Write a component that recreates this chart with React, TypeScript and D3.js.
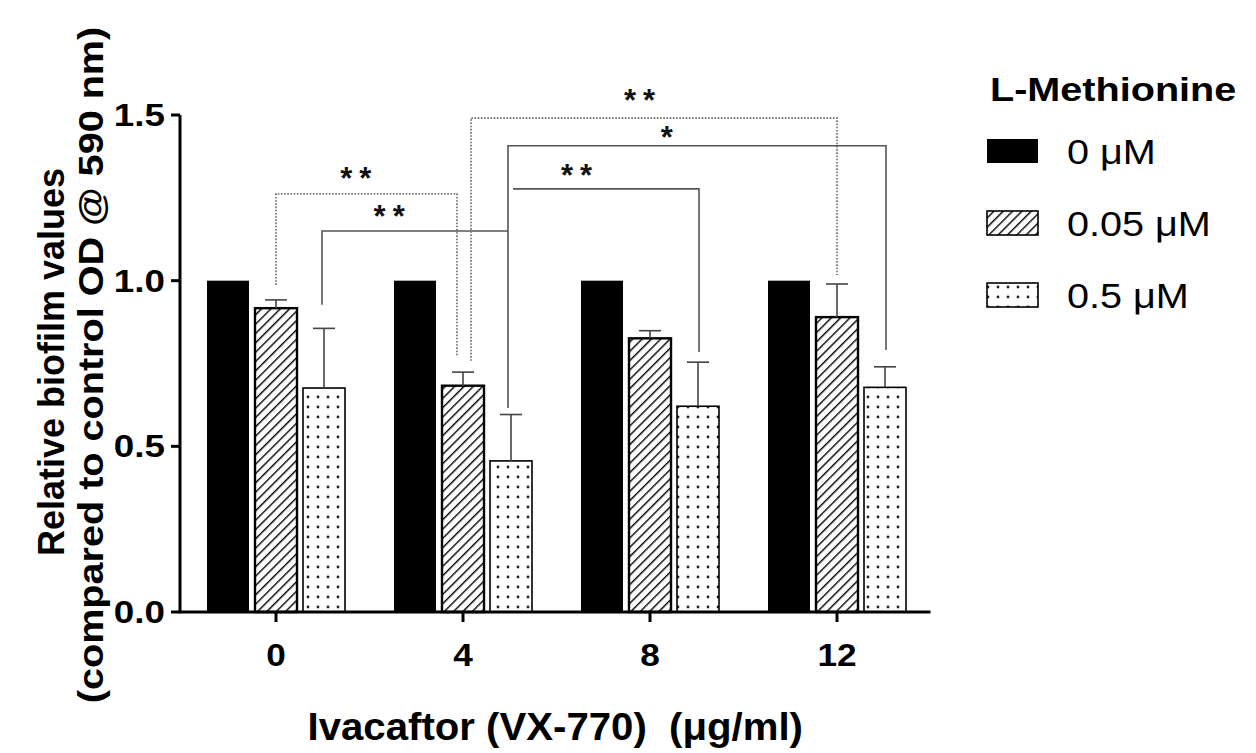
import * as d3 from 'd3'

// Ivacaftor concentration groups (µg/ml)
const groups = ['0', '4', '8', '12']
// L-Methionine concentration series
const series = ['0 μM', '0.05 μM', '0.5 μM']

// relative biofilm values per series, one value per group
const methionine0 = [1.0, 1.0, 1.0, 1.0]
const methionine005 = [0.917, 0.683, 0.826, 0.89]
const methionine05 = [0.676, 0.456, 0.621, 0.678]

// upper error (SD) per series
const err0 = [0, 0, 0, 0]
const err005 = [0.025, 0.041, 0.023, 0.1]
const err05 = [0.18, 0.14, 0.133, 0.062]

const yTicks = [0, 0.5, 1.0, 1.5]

// significance brackets: [group, series] at each end, bracket level and leg ends in data units
const brackets = [
  { from: ['0', '0.05 μM'], to: ['4', '0.05 μM'], level: 1.262, leftEnd: 0.987, rightEnd: 0.77, label: '**', dashed: true, dxL: 0, dxR: -6, t: 0.46, dy: 22 },
  { from: ['0', '0.5 μM'], to: ['4', '0.5 μM'], level: 1.15, leftEnd: 0.927, rightEnd: null, label: '**', dashed: false, dxL: -2, dxR: -3, t: 0.38, dy: 21 },
  { from: ['4', '0.05 μM'], to: ['12', '0.05 μM'], level: 1.491, leftEnd: 0.758, rightEnd: 1.017, label: '**', dashed: true, dxL: 8, dxR: 0, t: 0.47, dy: 24 },
  { from: ['4', '0.5 μM'], to: ['12', '0.5 μM'], level: 1.407, leftEnd: 0.616, rightEnd: 0.791, label: '*', dashed: false, dxL: -3, dxR: 1, t: 0.42, dy: 15 },
  { from: ['4', '0.5 μM'], to: ['8', '0.5 μM'], level: 1.277, leftEnd: null, rightEnd: 0.785, label: '**', dashed: false, dxL: 2, dxR: 1, t: 0.36, dy: 20 },
]

const FONT = 'Liberation Sans, Arial, Helvetica, sans-serif'

export default function App() {
  const width = 1256
  const height = 753

  const values = [methionine0, methionine005, methionine05]
  const errors = [err0, err005, err05]

  const x = d3.scaleBand().domain(groups).range([182.5, 930.5]).paddingInner(0).paddingOuter(0)
  const xi = d3.scaleBand().domain(series).range([-72, 72]).paddingInner(0.125).paddingOuter(0.0625)
  const y = d3.scaleLinear().domain([0, 1.5]).range([612, 115])

  const gc = (g: string) => (x(g) as number) + x.bandwidth() / 2
  const bc = (g: string, s: string) => gc(g) + (xi(s) as number) + xi.bandwidth() / 2

  const fills = ['#000', 'url(#hatch)', 'url(#dots)']

  const axisLeft = x.range()[0] - 2.5
  const axisRight = x.range()[1]

  const legendY = d3.scalePoint().domain(series).range([151, 295])

  return (
    <div style={{ position: 'absolute', left: 0, top: 0 }}>
      <svg width={width} height={height} style={{ display: 'block', background: '#fff' }} fontFamily={FONT}>
        <defs>
          <pattern id="hatch" width={6.6} height={6.6} patternUnits="userSpaceOnUse" patternTransform="rotate(45)">
            <rect width={6.6} height={6.6} fill="#fff" />
            <line x1={0} y1={0} x2={0} y2={6.6} stroke="#000" strokeWidth={2.8} />
          </pattern>
          <pattern id="dots" width={10} height={10} patternUnits="userSpaceOnUse" x={3} y={2}>
            <rect width={10} height={10} fill="#fff" />
            <circle cx={5} cy={5} r={1.4} fill="#222" />
          </pattern>
        </defs>

        {/* bars */}
        {series.map((s, si) =>
          groups.map((g, gi) => {
            const v = values[si][gi]
            const x0 = (x(g) as number) + x.bandwidth() / 2 + (xi(s) as number)
            const isBlack = si === 0
            return (
              <rect
                key={s + g}
                x={x0}
                y={y(v)}
                width={xi.bandwidth()}
                height={y(0) - y(v)}
                fill={fills[si]}
                stroke={isBlack ? 'none' : '#000'}
                strokeWidth={si === 1 ? 2.4 : 1.6}
              />
            )
          })
        )}

        {/* error bars (upper only) */}
        {series.map((s, si) =>
          groups.map((g, gi) => {
            const e = errors[si][gi]
            if (!e) return null
            const cx = bc(g, s)
            const top = y(values[si][gi] + e)
            return (
              <g key={'e' + s + g} stroke="#444" strokeWidth={1.6}>
                <line x1={cx} x2={cx} y1={y(values[si][gi])} y2={top} />
                <line x1={cx - 11} x2={cx + 11} y1={top} y2={top} />
              </g>
            )
          })
        )}

        {/* significance brackets */}
        {brackets.map((b, i) => {
          const xl = bc(b.from[0], b.from[1]) + b.dxL
          const xr = bc(b.to[0], b.to[1]) + b.dxR
          const yl = y(b.level)
          const pts: [number, number][] = []
          if (b.leftEnd !== null) pts.push([xl, y(b.leftEnd)])
          pts.push([xl, yl], [xr, yl])
          if (b.rightEnd !== null) pts.push([xr, y(b.rightEnd)])
          const path = d3.line()(pts) as string
          const lx = xl + (xr - xl) * b.t
          return (
            <g key={'b' + i}>
              <path
                d={path}
                fill="none"
                stroke={b.dashed ? '#777' : '#555'}
                strokeWidth={b.dashed ? 1.8 : 1.6}
                strokeDasharray={b.dashed ? '1.6 1.6' : undefined}
              />
              <text
                x={lx}
                y={yl - b.dy + 17}
                textAnchor="middle"
                fontSize={31}
                fontWeight="bold"
                letterSpacing={b.label.length > 1 ? 7 : 0}
                fill="#111"
              >
                {b.label}
              </text>
            </g>
          )
        })}

        {/* y axis */}
        <line x1={axisLeft} x2={axisLeft} y1={y(1.5)} y2={y(0)} stroke="#000" strokeWidth={3} />
        {yTicks.map((t) => (
          <g key={'yt' + t}>
            <line x1={axisLeft - 9} x2={axisLeft} y1={y(t)} y2={y(t)} stroke="#000" strokeWidth={3} />
            <text
              transform={`translate(${axisLeft - 15},${y(t) + 11}) scale(1.15,1)`}
              textAnchor="end"
              fontSize={32}
              fontWeight="bold"
              fill="#000"
            >
              {t.toFixed(1)}
            </text>
          </g>
        ))}

        {/* x axis */}
        <line x1={axisLeft - 1.5} x2={axisRight} y1={y(0)} y2={y(0)} stroke="#000" strokeWidth={3} />
        {groups.map((g) => (
          <g key={'xt' + g}>
            <line x1={gc(g)} x2={gc(g)} y1={y(0)} y2={y(0) + 10} stroke="#000" strokeWidth={3} />
            <text
              transform={`translate(${gc(g)},${y(0) + 54}) scale(1.1,1)`}
              textAnchor="middle"
              fontSize={32}
              fontWeight="bold"
              fill="#000"
            >
              {g}
            </text>
          </g>
        ))}

        {/* axis titles */}
        <text
          transform={`translate(${(axisLeft + axisRight) / 2},740) scale(1.03,1)`}
          textAnchor="middle"
          fontSize={39}
          fontWeight="bold"
          fill="#000"
        >
          {'Ivacaftor (VX-770)\u00a0 (μg/ml)'}
        </text>
        <text transform="translate(64,362) rotate(-90)" textAnchor="middle" fontSize={36} fontWeight="bold" fill="#000">
          Relative biofilm values
        </text>
        <text transform="translate(103,365) rotate(-90) scale(1.1,1)" textAnchor="middle" fontSize={36} fontWeight="bold" fill="#000">
          (compared to control OD @ 590 nm)
        </text>

        {/* legend */}
        <text transform="translate(990,101) scale(1.2,1)" fontSize={33} fontWeight="bold" fill="#000">
          L-Methionine
        </text>
        {series.map((s, si) => {
          const cy = legendY(s) as number
          return (
            <g key={'lg' + s}>
              <rect
                x={987}
                y={cy - 12}
                width={51}
                height={24}
                fill={fills[si]}
                stroke={si === 0 ? 'none' : '#000'}
                strokeWidth={1.6}
              />
              <text transform={`translate(1067,${cy + 13}) scale(1.1,1)`} fontSize={36} fill="#000">
                {s}
              </text>
            </g>
          )
        })}
      </svg>
    </div>
  )
}
